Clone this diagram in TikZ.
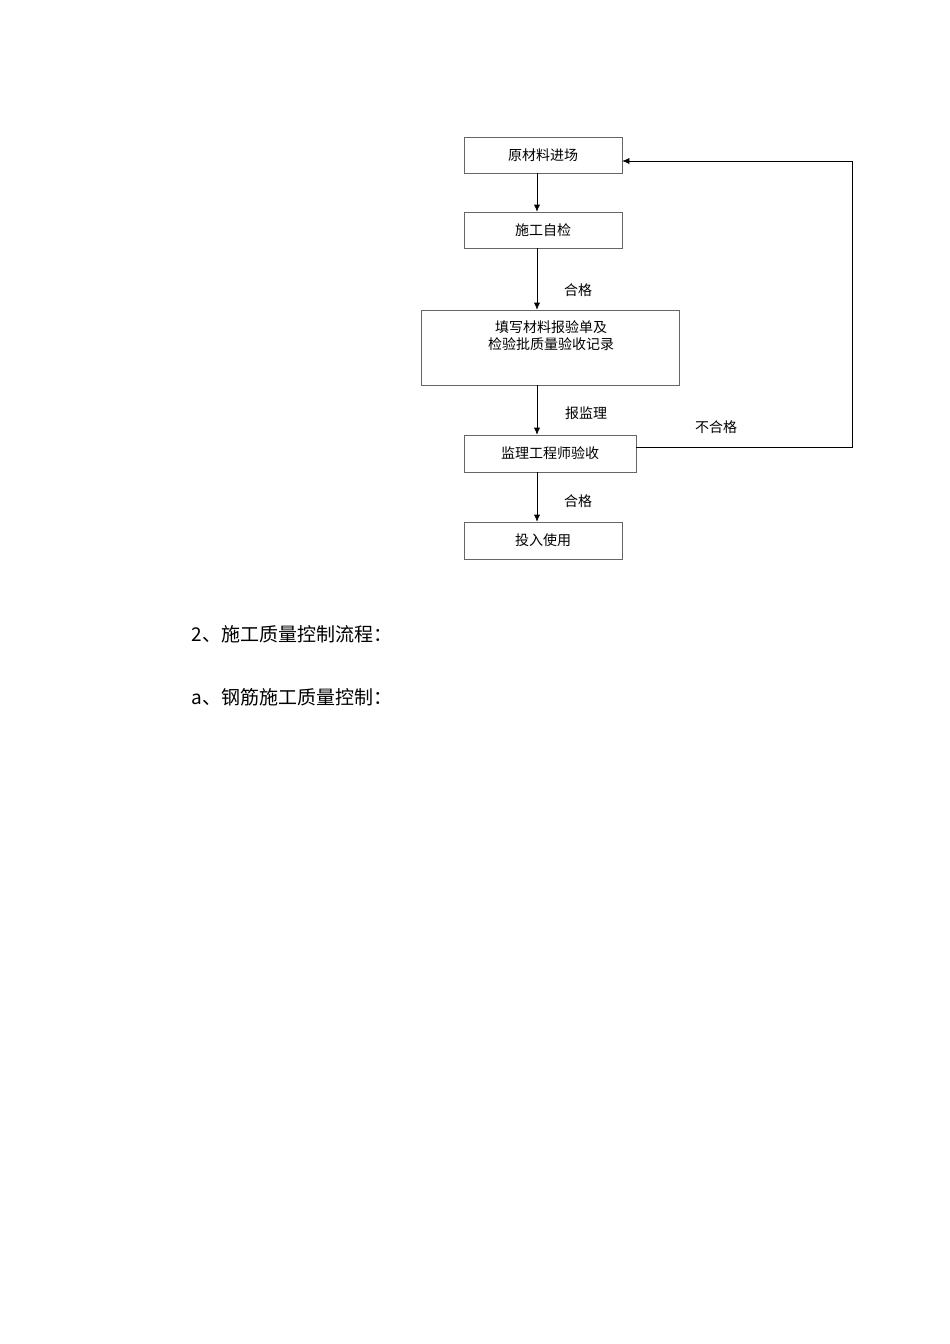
\documentclass[tikz,border=0pt]{standalone}
\usepackage{fontspec}
\setmainfont{Noto Sans CJK SC}
\usetikzlibrary{arrows.meta}
\begin{document}
\begin{tikzpicture}[x=1pt,y=-1pt,
  bx/.style={draw=black!60,line width=0.6pt,inner sep=0pt,font=\fontsize{14}{17}\selectfont},
  lb/.style={font=\fontsize{14}{17}\selectfont},
  ar/.style={-{Latex[length=7pt,width=6pt]},line width=0.6pt},
  big/.style={font=\fontsize{19}{22}\selectfont,anchor=west}]
\useasboundingbox[fill=white] (0,0) rectangle (950,1344);
\node[bx,minimum width=158pt,minimum height=36pt] (a) at (543,155) {原材料进场};
\node[bx,minimum width=158pt,minimum height=36pt] (b) at (543,230) {施工自检};
\node[bx,minimum width=258pt,minimum height=75pt,align=center] (c) at (550,347.5) {};
\node[lb,align=center] (ct) at (551,336) {填写材料报验单及\\检验批质量验收记录};
\node[bx,minimum width=172pt,minimum height=37pt] (d) at (550,453.5) {监理工程师验收};
\node[bx,minimum width=158pt,minimum height=37pt] (e) at (543,540.5) {投入使用};
\draw[ar] (a.south -| 537,0) -- (b.north -| 537,0);
\draw[ar] (b.south -| 537,0) -- (c.north -| 537,0);
\draw[ar] (c.south -| 537,0) -- (d.north -| 537,0);
\draw[ar] (d.south -| 537,0) -- (e.north -| 537,0);
\coordinate (r1) at (852,447);
\coordinate (r2) at (852,161);
\draw[ar] (d.east |- r1) -- (r1) -- (r2) -- (a.east |- r2);
\node[lb] (l1) at (578,290) {合格};
\node[lb] (l2) at (586,413) {报监理};
\node[lb] (l3) at (578,501) {合格};
\node[lb] (l4) at (716,427) {不合格};
\node[big] (t1) at (188,634) {2、施工质量控制流程：};
\node[big] (t2) at (188,697) {a、钢筋施工质量控制：};
\end{tikzpicture}
\end{document}
